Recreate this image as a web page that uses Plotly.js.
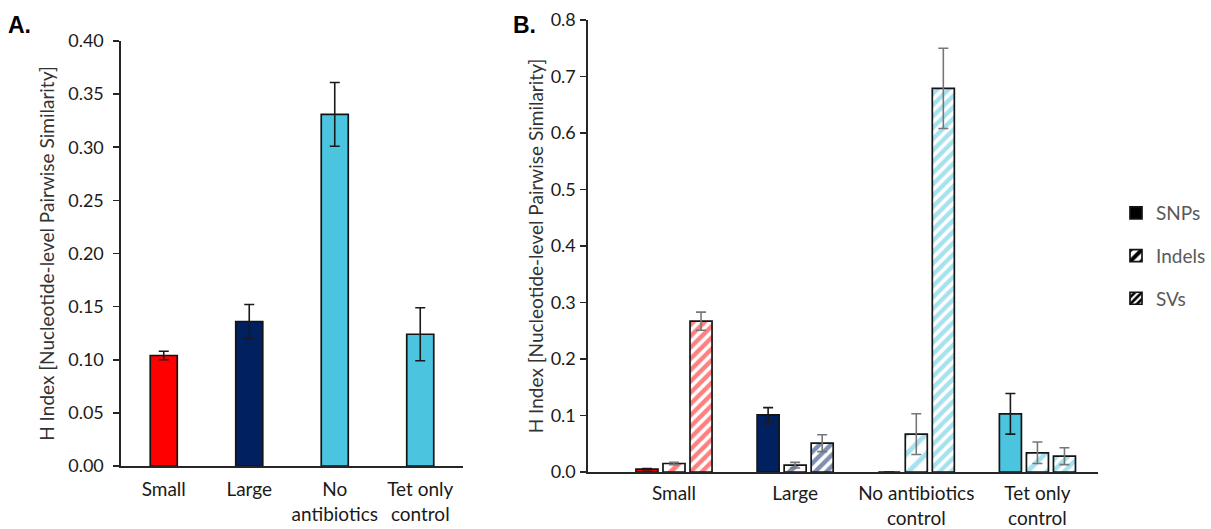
<!DOCTYPE html>
<html>
<head>
<meta charset="utf-8">
<script src="https://cdn.plot.ly/plotly-3.0.1.min.js"></script>
<style>html,body{margin:0;padding:0;background:#fff;}#chart{width:1211px;height:529px;}</style>
</head>
<body>
<div id="chart"></div>
<script>
// Panel A
const catsA = ["Small", "Large", "No<br>antibiotics", "Tet only<br>control"];
const valsA = [0.104, 0.136, 0.331, 0.124];
const errA = [0.004, 0.016, 0.030, 0.025];
const colorsA = ["#FF0000", "#002060", "#4BC4E0", "#4BC4E0"];

// Panel B
const catsB = ["Small", "Large", "No antibiotics<br>control", "Tet only<br>control"];
const groupColorsB = ["#FF0000", "#002060", "#4BC4E0", "#4BC4E0"];
const snps = [0.005, 0.101, 0.0, 0.103];
const snpsErr = [0.001, 0.013, 0.0, 0.036];
const indels = [0.015, 0.012, 0.067, 0.034];
const indelsErr = [0.002, 0.005, 0.036, 0.019];
const svs = [0.267, 0.051, 0.679, 0.028];
const svsErr = [0.016, 0.015, 0.071, 0.015];
const seriesNames = ["SNPs", "Indels", "SVs"];

const FONT = "Lato, 'Liberation Sans', sans-serif";
const outline = {color: "#141414", width: 1.7};
const BW = 0.1818;
const offsetsB = [-0.3140, -0.0909, 0.1322];

const traces = [
  {
    type: "bar", x: catsA, y: valsA, xaxis: "x", yaxis: "y", width: 0.316,
    marker: {color: colorsA, line: outline},
    error_y: {type: "data", array: errA, visible: true, color: "#1a1a1a", thickness: 1.6, width: 5},
    showlegend: false, hoverinfo: "skip"
  },
  {
    type: "bar", x: catsB, y: snps, xaxis: "x2", yaxis: "y2", width: BW, offset: offsetsB[0],
    marker: {color: groupColorsB, line: outline},
    error_y: {type: "data", array: snpsErr, visible: true, color: "#1a1a1a", thickness: 1.6, width: 5},
    showlegend: false, hoverinfo: "skip"
  },
  {
    type: "bar", x: catsB, y: indels, xaxis: "x2", yaxis: "y2", width: BW, offset: offsetsB[1],
    marker: {color: "#ffffff", line: outline,
      pattern: {shape: "/", fgcolor: groupColorsB, bgcolor: "#ffffff", size: 14, solidity: 0.35, fillmode: "overlay"}},
    error_y: {type: "data", array: indelsErr, visible: true, color: "#777777", thickness: 1.6, width: 5},
    showlegend: false, hoverinfo: "skip"
  },
  {
    type: "bar", x: catsB, y: svs, xaxis: "x2", yaxis: "y2", width: BW, offset: offsetsB[2],
    marker: {color: "#ffffff", line: outline,
      pattern: {shape: "/", fgcolor: groupColorsB, bgcolor: "#ffffff", size: 8, solidity: 0.55, fillmode: "overlay"}},
    error_y: {type: "data", array: svsErr, visible: true, color: "#777777", thickness: 1.6, width: 5},
    showlegend: false, hoverinfo: "skip"
  },
  // legend entries
  {type: "bar", name: seriesNames[0], x: [null], y: [null], xaxis: "x2", yaxis: "y2", legendgroup: "a",
    marker: {color: "#000000", line: outline}},
  {type: "bar", name: seriesNames[1], x: [null], y: [null], xaxis: "x2", yaxis: "y2", legendgroup: "b",
    marker: {color: "#ffffff", line: outline, pattern: {shape: "/", fgcolor: "#000000", bgcolor: "#ffffff", size: 14, solidity: 0.5}}},
  {type: "bar", name: seriesNames[2], x: [null], y: [null], xaxis: "x2", yaxis: "y2", legendgroup: "c",
    marker: {color: "#ffffff", line: outline, pattern: {shape: "/", fgcolor: "#000000", bgcolor: "#ffffff", size: 6, solidity: 0.55}}}
];

const W = 1211, H = 529;
const axisCommon = {
  showline: true, linecolor: "#262626", linewidth: 1.6, showgrid: false, zeroline: false,
  tickfont: {family: FONT, size: 18, color: "#1a1a1a"}, fixedrange: true
};
const titleFont = {family: FONT, size: 19, color: "#333333"};

const layout = {
  width: W, height: H,
  margin: {l: 0, r: 0, t: 0, b: 0},
  paper_bgcolor: "#ffffff", plot_bgcolor: "rgba(0,0,0,0)",
  font: {family: FONT, color: "#1a1a1a"},
  barmode: "overlay",
  showlegend: true,
  legend: {x: 1116 / W, y: (529 - 194) / H, xanchor: "left", yanchor: "top",
    font: {family: FONT, size: 19, color: "#595959"}, traceorder: "grouped", tracegroupgap: 15,
    bgcolor: "rgba(0,0,0,0)", itemwidth: 30},
  xaxis: Object.assign({}, axisCommon, {
    domain: [121 / W, 463 / W], anchor: "y", type: "category", range: [-0.5, 3.5],
    ticks: "", ticklen: 0, tickfont: {family: FONT, size: 19, color: "#1a1a1a"}, ticklabelstandoff: 6
  }),
  yaxis: Object.assign({}, axisCommon, {
    domain: [63 / H, 488 / H], anchor: "x", range: [0, 0.4], dtick: 0.05, tickformat: ".2f",
    ticks: "outside", ticklen: 6, tickcolor: "#262626", tickwidth: 1.6, ticklabelstandoff: 6,
    title: {text: "H Index [Nucleotide-level Pairwise Similarity]", font: titleFont, standoff: 8}
  }),
  xaxis2: Object.assign({}, axisCommon, {
    domain: [588 / W, 1098 / W], anchor: "y2", type: "category", range: [-0.71, 3.5],
    ticks: "", ticklen: 0, tickfont: {family: FONT, size: 19, color: "#1a1a1a"}, ticklabelstandoff: 4
  }),
  yaxis2: Object.assign({}, axisCommon, {
    domain: [57 / H, 509 / H], anchor: "x2", range: [0, 0.8], dtick: 0.1, tickformat: ".1f",
    ticks: "outside", ticklen: 6, tickcolor: "#262626", tickwidth: 1.6, ticklabelstandoff: 1,
    title: {text: "H Index [Nucleotide-level Pairwise Similarity]", font: titleFont, standoff: 2}
  }),
  annotations: [
    {text: "<b>A.</b>", x: 6 / W, y: 1 - 10 / H, xref: "paper", yref: "paper", xanchor: "left", yanchor: "top",
      showarrow: false, font: {family: "'Liberation Sans', Arial, sans-serif", size: 23, color: "#000000"}},
    {text: "<b>B.</b>", x: 511 / W, y: 1 - 10 / H, xref: "paper", yref: "paper", xanchor: "left", yanchor: "top",
      showarrow: false, font: {family: "'Liberation Sans', Arial, sans-serif", size: 23, color: "#000000"}}
  ]
};

Plotly.newPlot("chart", traces, layout, {displayModeBar: false, staticPlot: true});
</script>
</body>
</html>
